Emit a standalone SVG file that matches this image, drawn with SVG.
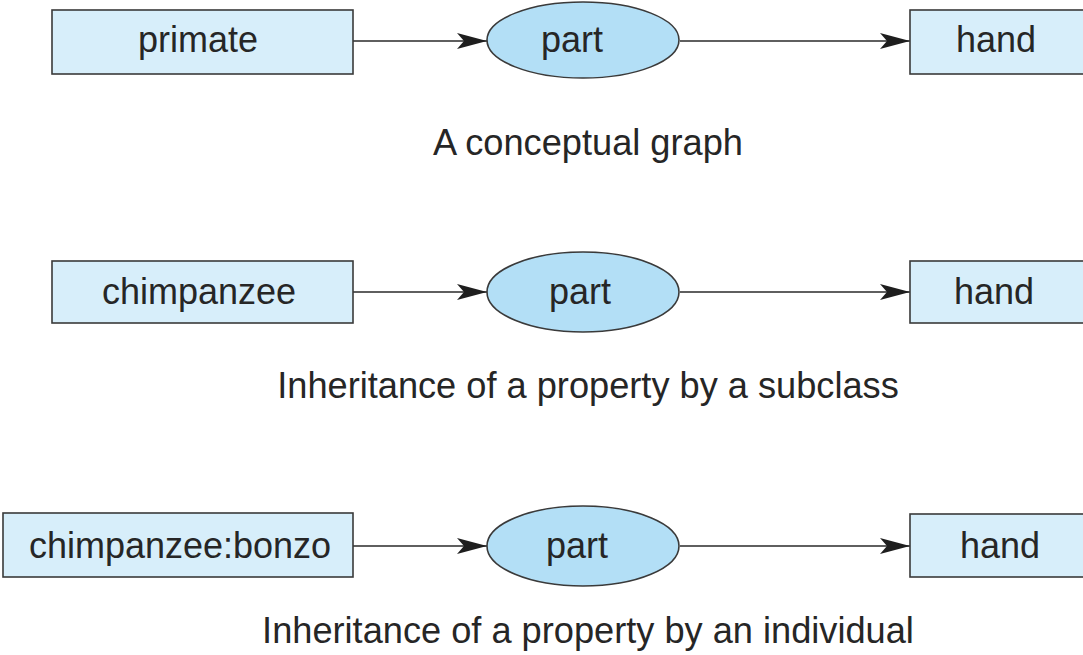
<svg xmlns="http://www.w3.org/2000/svg" width="1083" height="655" viewBox="0 0 1083 655">
<defs>
<style>
.box{fill:#d7eefa;stroke:#3a3a3a;stroke-width:1.6}
.ell{fill:#b3dff6;stroke:#3a3a3a;stroke-width:1.6}
.lbl{font-family:"Liberation Sans",Arial,sans-serif;font-size:36px;fill:#262626;text-anchor:middle}
.cap{font-family:"Liberation Sans",Arial,sans-serif;font-size:36.2px;fill:#262626;text-anchor:middle}
.edge{stroke:#2a2a2a;stroke-width:1.6;fill:none;marker-end:url(#ah)}
</style>
<marker id="ah" viewBox="0 0 30 16" refX="30" refY="8" markerWidth="30" markerHeight="16" markerUnits="userSpaceOnUse" orient="auto">
<path d="M0,0 L30,8 L0,16 L7,8 Z" fill="#1e1e1e"/>
</marker>
</defs>
<rect width="1083" height="655" fill="#ffffff"/>
<g id="connectors">
<line class="edge" x1="353" y1="41" x2="487" y2="41"/>
<line class="edge" x1="680" y1="41" x2="910" y2="41"/>
<line class="edge" x1="353" y1="292" x2="487" y2="292"/>
<line class="edge" x1="680" y1="292" x2="910" y2="292"/>
<line class="edge" x1="353" y1="546" x2="487" y2="546"/>
<line class="edge" x1="680" y1="546" x2="910" y2="546"/>
</g>
<g id="primate"><rect class="box" x="52" y="10" width="301" height="64"/><text class="lbl" x="198" y="52">primate</text></g>
<g id="part1"><ellipse class="ell" cx="583" cy="40" rx="96" ry="38"/><text class="lbl" x="572" y="52">part</text></g>
<g id="hand1"><rect class="box" x="910" y="10" width="180" height="64"/><text class="lbl" x="996" y="52">hand</text></g>
<g id="caption1"><text class="cap" x="588" y="155">A conceptual graph</text></g>

<g id="chimpanzee"><rect class="box" x="52" y="261" width="301" height="62"/><text class="lbl" x="199" y="304">chimpanzee</text></g>
<g id="part2"><ellipse class="ell" cx="583" cy="292" rx="96" ry="40"/><text class="lbl" x="580" y="304">part</text></g>
<g id="hand2"><rect class="box" x="910" y="261" width="180" height="62"/><text class="lbl" x="994" y="304">hand</text></g>
<g id="caption2"><text class="cap" x="588" y="398">Inheritance of a property by a subclass</text></g>

<g id="bonzo"><rect class="box" x="3" y="513" width="350" height="64"/><text class="lbl" x="180" y="558">chimpanzee:bonzo</text></g>
<g id="part3"><ellipse class="ell" cx="583" cy="546" rx="96" ry="40"/><text class="lbl" x="577" y="558">part</text></g>
<g id="hand3"><rect class="box" x="910" y="514" width="180" height="63"/><text class="lbl" x="1000" y="558">hand</text></g>
<g id="caption3"><text class="cap" x="588" y="643">Inheritance of a property by an individual</text></g>
</svg>
